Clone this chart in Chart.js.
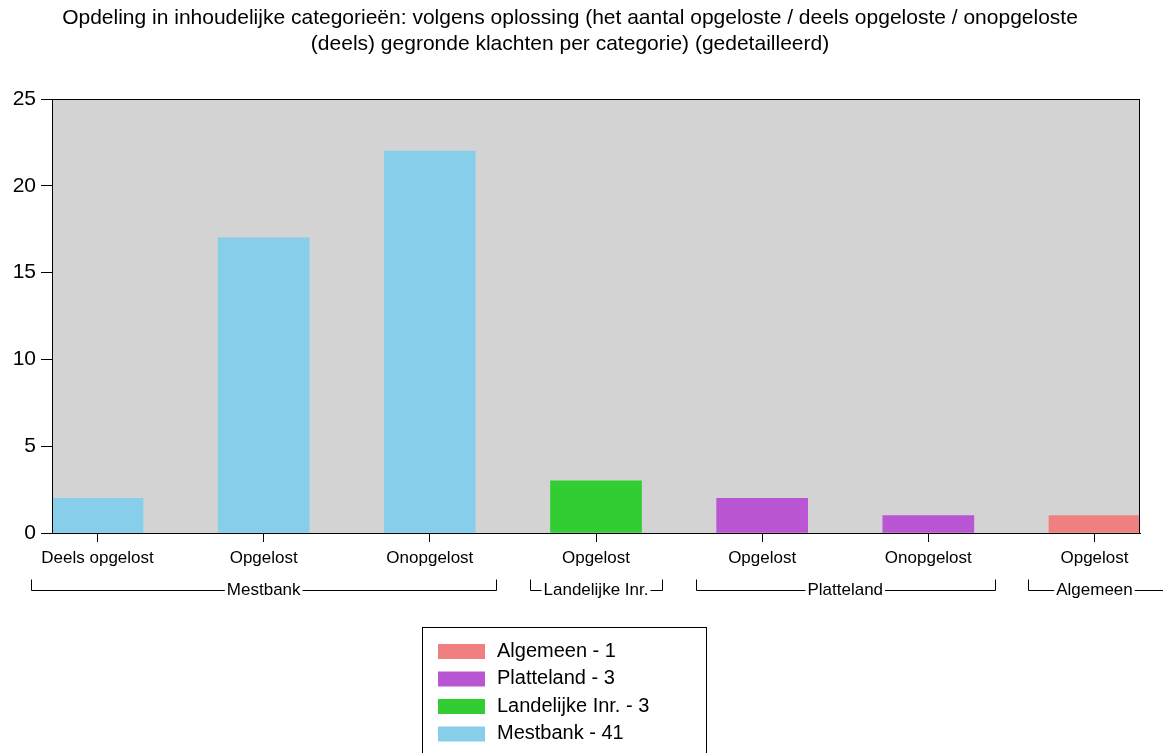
<!DOCTYPE html>
<html>
<head>
<meta charset="utf-8">
<script src="https://cdn.jsdelivr.net/npm/chart.js@4/dist/chart.umd.min.js"></script>
<style>
  body { margin: 0; background: #fff; }
  #wrap { width: 1163px; height: 753px; }
</style>
</head>
<body>
<div id="wrap"><canvas id="chart" width="1163" height="753"></canvas></div>
<script>
// data
const titleLines = [
  "Opdeling in inhoudelijke categorieën: volgens oplossing (het aantal opgeloste / deels opgeloste / onopgeloste",
  "(deels) gegronde klachten per categorie) (gedetailleerd)"
];
const categories = ["Deels opgelost", "Opgelost", "Onopgelost", "Opgelost", "Opgelost", "Onopgelost", "Opgelost"];
const groupOfBar = ["Mestbank", "Mestbank", "Mestbank", "Landelijke Inr.", "Platteland", "Platteland", "Algemeen"];
const values = [2, 17, 22, 3, 2, 1, 1];
const groups = ["Mestbank", "Landelijke Inr.", "Platteland", "Algemeen"];
const groupColors = ["#87CEEB", "#32CD32", "#BA55D3", "#F08080"];
const yTicks = [0, 5, 10, 15, 20, 25];

const FONT = "'Liberation Sans', Arial, sans-serif";

const datasets = groups.map((g, gi) => {
  const pts = [];
  values.forEach((v, i) => { if (groupOfBar[i] === g) pts.push({ x: i, y: v }); });
  return {
    label: g + " - " + pts.reduce((s, p) => s + p.y, 0),
    data: pts,
    backgroundColor: groupColors[gi],
    borderWidth: 0,
    barThickness: 91,
  };
});

// grey plot background + frame
const plotFrame = {
  id: "plotFrame",
  beforeDatasetsDraw(chart) {
    const { ctx, chartArea: a } = chart;
    ctx.save();
    ctx.fillStyle = "#D3D3D3";
    ctx.fillRect(a.left, a.top, a.right - a.left, a.bottom - a.top);
    ctx.restore();
  },
  afterDatasetsDraw(chart) {
    const { ctx, chartArea: a } = chart;
    ctx.save();
    ctx.strokeStyle = "#000";
    ctx.lineWidth = 1;
    ctx.strokeRect(Math.round(a.left) + 0.5, Math.round(a.top) + 0.5, Math.round(a.right - a.left) - 1, Math.round(a.bottom - a.top));
    ctx.restore();
  }
};

// group brackets under the category labels
const groupBrackets = {
  id: "groupBrackets",
  afterDraw(chart) {
    const { ctx } = chart;
    const xs = chart.scales.x;
    const y = 590.5;
    ctx.save();
    ctx.font = "17px " + FONT;
    ctx.fillStyle = "#000";
    ctx.strokeStyle = "#000";
    ctx.lineWidth = 1;
    ctx.textAlign = "center";
    ctx.textBaseline = "middle";
    groups.forEach(g => {
      const idx = groupOfBar.map((b, i) => b === g ? i : -1).filter(i => i >= 0);
      const first = idx[0], last = idx[idx.length - 1];
      const x0 = Math.round(xs.getPixelForValue(first - 0.4)) + 0.5;
      let x1 = Math.round(xs.getPixelForValue(last + 0.4)) + 0.5;
      const xm = (xs.getPixelForValue(first) + xs.getPixelForValue(last)) / 2;
      const w = ctx.measureText(g).width;
      ctx.fillText(g, xm, y);
      ctx.beginPath();
      ctx.moveTo(x0, y - 11);
      ctx.lineTo(x0, y);
      ctx.lineTo(xm - w / 2 - 2, y);
      ctx.moveTo(xm + w / 2 + 2, y);
      if (x1 > chart.width - 6) {
        ctx.lineTo(chart.width, y); // runs off the edge
      } else {
        ctx.lineTo(x1, y);
        ctx.lineTo(x1, y - 11);
      }
      ctx.stroke();
    });
    ctx.restore();
  }
};

// boxed legend, listed in reverse order
const boxLegend = {
  id: "boxLegend",
  afterDraw(chart) {
    const { ctx } = chart;
    const left = 422, top = 627, width = 284;
    ctx.save();
    ctx.strokeStyle = "#000";
    ctx.lineWidth = 1;
    ctx.strokeRect(left + 0.5, top + 0.5, width, 140);
    ctx.font = "20px " + FONT;
    ctx.textBaseline = "middle";
    ctx.textAlign = "left";
    const items = chart.data.datasets.slice().reverse();
    items.forEach((ds, i) => {
      const cy = top + 24 + i * 27.5;
      ctx.fillStyle = ds.backgroundColor;
      ctx.fillRect(left + 16, cy - 7, 47, 15);
      ctx.fillStyle = "#000";
      ctx.fillText(ds.label, left + 75, cy);
    });
    ctx.restore();
  }
};

new Chart(document.getElementById("chart"), {
  type: "bar",
  data: { datasets },
  options: {
    responsive: false,
    animation: false,
    layout: { padding: { left: 0, right: 23, top: 0, bottom: 0 } },
    datasets: { bar: { grouped: false } },
    plugins: {
      legend: { display: false },
      tooltip: { enabled: false },
      title: {
        display: true,
        text: titleLines,
        color: "#000",
        font: { family: FONT, size: 21, weight: "normal", lineHeight: 1.24 },
        padding: { top: 5, bottom: 42 },
      },
    },
    scales: {
      x: {
        type: "linear",
        offset: false,
        min: -0.274,
        max: 6.274,
        afterBuildTicks(scale) { scale.ticks = categories.map((c, i) => ({ value: i })); },
        afterFit(scale) { scale.height = 220; },
        ticks: {
          color: "#000",
          font: { family: FONT, size: 17 },
          padding: 6,
          maxRotation: 0,
          autoSkip: false,
          callback: (v) => categories[v],
        },
        grid: { offset: false, drawOnChartArea: false, tickLength: 9, color: "#000" },
        border: { color: "#000" },
      },
      y: {
        min: 0,
        max: 25,
        afterBuildTicks(scale) { scale.ticks = yTicks.map(v => ({ value: v })); },
        afterFit(scale) { scale.width = 52; },
        ticks: { color: "#000", font: { family: FONT, size: 21 }, padding: 5 },
        grid: { drawOnChartArea: false, tickLength: 11, color: "#000" },
        border: { color: "#000" },
      },
    },
  },
  plugins: [plotFrame, groupBrackets, boxLegend],
});
</script>
</body>
</html>
